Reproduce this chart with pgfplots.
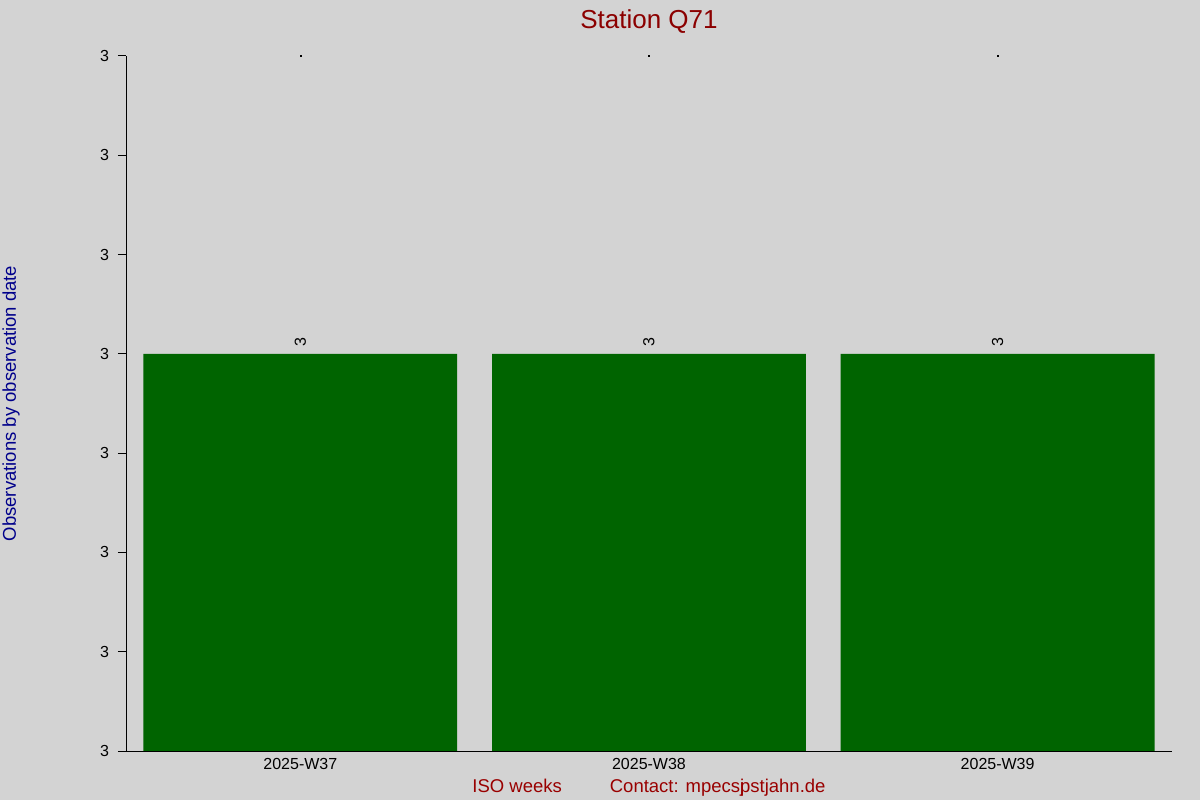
\documentclass[border=0pt]{standalone}
\usepackage{fontspec}
\setmainfont{Liberation Sans}
\usepackage{pgfplots}
\pgfplotsset{compat=1.18}
\definecolor{bg}{HTML}{D3D3D3}
\definecolor{bargreen}{HTML}{006400}
\definecolor{titlered}{HTML}{8B0000}
\definecolor{labelred}{HTML}{990000}
\definecolor{labelblue}{HTML}{00008B}
\begin{document}
\begin{tikzpicture}
\fill[bg] (0,0) rectangle (1200bp,800bp);
\begin{axis}[
  at={(126bp,49bp)}, anchor=south west,
  scale only axis, width=1046bp, height=695bp,
  xmin=-0.5, xmax=2.5, ymin=2.96, ymax=3.03,
  axis x line*=bottom, axis y line*=left,
  axis line style={-, line width=1bp, black},
  xtick={0,1,2},
  xticklabels={2025-W37,2025-W38,2025-W39},
  xtick style={draw=none},
  ytick={2.96,2.97,2.98,2.99,3.00,3.01,3.02,3.03},
  scaled y ticks=false,
  yticklabel style={/pgf/number format/fixed, /pgf/number format/precision=0, xshift=-5.5bp},
  /pgf/number format/assume math mode=true,
  tick align=outside, major tick length=8bp,
  ytick style={line width=1bp, black},
  tick label style={font=\fontsize{16bp}{19bp}\selectfont},
  xticklabel style={yshift=4.5bp},
  title={Station Q71},
  title style={at={(0.5,1.0417)}, anchor=center, yshift=0pt,
    font=\fontsize{26bp}{30bp}\selectfont, text=titlered},
  xlabel={ISO weeks\hspace{48bp}Contact: mpecs\rlap{j}pstjahn.de},
  xlabel style={at={(0.5,-0.0533)}, anchor=center, yshift=0pt,
    font=\fontsize{18.5bp}{22bp}\selectfont, text=labelred},
  ylabel={Observations by observation date},
  ylabel style={at={(-0.1099,0.5)}, anchor=center, xshift=0pt,
    font=\fontsize{18.5bp}{22bp}\selectfont, text=labelblue},
]
\addplot[ybar, bar width=0.9, bar shift=0pt, fill=bargreen, draw=none,
  nodes near coords,
  every node near coord/.append style={rotate=90, anchor=west, inner xsep=7bp,
    font=\fontsize{16bp}{19bp}\selectfont, black,
    /pgf/number format/fixed, /pgf/number format/precision=0}]
  coordinates {(0,3) (1,3) (2,3)};
\addplot[only marks, mark=square*, mark size=0.5bp, black]
  coordinates {(0,3.03) (1,3.03) (2,3.03)};
\end{axis}
\pgfresetboundingbox
\useasboundingbox (0,0) rectangle (1200bp,800bp);
\end{tikzpicture}
\end{document}
